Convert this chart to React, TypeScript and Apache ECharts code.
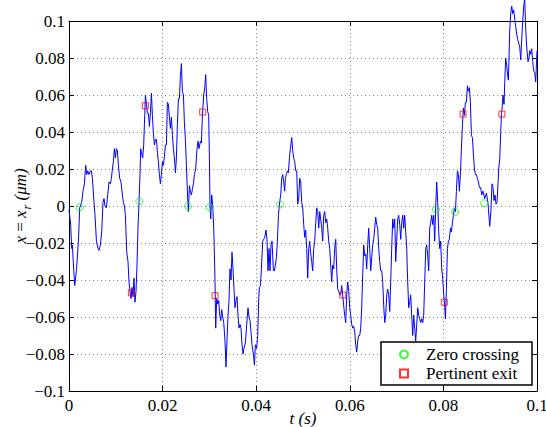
import React, { useEffect, useRef } from "react";
import * as echarts from "echarts";

// time (s) of the traced signal
const tValues = [
  0, 0.00036, 0.00058, 0.00073, 0.00086, 0.00122, 0.00158, 0.00201, 0.00229, 0.00271,
  0.00299, 0.00329, 0.00357, 0.00378, 0.004, 0.00427, 0.00457, 0.00479, 0.005, 0.00534,
  0.00556, 0.00586, 0.0062, 0.00641, 0.00671, 0.00699, 0.00727, 0.00748, 0.00769, 0.00799,
  0.00827, 0.00855, 0.00885, 0.00906, 0.00927, 0.00949, 0.0097, 0.00992, 0.01013, 0.01034,
  0.01056, 0.01083, 0.01111, 0.01141, 0.01162, 0.01184, 0.01205, 0.01233, 0.01261, 0.01282,
  0.01303, 0.01325, 0.01346, 0.01368, 0.01389, 0.0141, 0.01432, 0.01453, 0.01474, 0.01496,
  0.01517, 0.01532, 0.01554, 0.01575, 0.01596, 0.01618, 0.01633, 0.01654, 0.01675, 0.01697,
  0.01718, 0.01739, 0.01761, 0.01782, 0.01804, 0.01825, 0.01846, 0.01868, 0.01889, 0.0191,
  0.01932, 0.01953, 0.01974, 0.01996, 0.02017, 0.02039, 0.0206, 0.02081, 0.02103, 0.02124,
  0.02145, 0.02167, 0.02188, 0.0221, 0.02231, 0.02252, 0.02274, 0.02295, 0.02316, 0.02338,
  0.02359, 0.0238, 0.02402, 0.02423, 0.02445, 0.02466, 0.02487, 0.02509, 0.02536, 0.02551,
  0.02573, 0.02594, 0.02615, 0.02637, 0.02658, 0.0268, 0.02707, 0.02735, 0.02757, 0.02778,
  0.02808, 0.02829, 0.02851, 0.02878, 0.029, 0.02921, 0.02942, 0.02964, 0.02985, 0.03,
  0.03013, 0.03028, 0.03049, 0.03071, 0.03092, 0.03107, 0.0312, 0.03135, 0.03156, 0.03177,
  0.03199, 0.0322, 0.03242, 0.03263, 0.03284, 0.03306, 0.03333, 0.03355, 0.03376, 0.03398,
  0.03419, 0.0344, 0.03462, 0.03483, 0.03504, 0.03526, 0.03547, 0.03569, 0.0359, 0.03611,
  0.03633, 0.03654, 0.03675, 0.03697, 0.03718, 0.03739, 0.03769, 0.03797, 0.03825, 0.03846,
  0.03868, 0.03889, 0.0391, 0.0394, 0.03962, 0.03983, 0.04011, 0.04032, 0.04054, 0.04069,
  0.0409, 0.04111, 0.04139, 0.0416, 0.04182, 0.0421, 0.04231, 0.04252, 0.04274, 0.04295,
  0.04316, 0.04338, 0.04368, 0.04389, 0.0441, 0.04432, 0.04453, 0.04475, 0.04496, 0.04524,
  0.04545, 0.04566, 0.04588, 0.04609, 0.04624, 0.04645, 0.04667, 0.04688, 0.0471, 0.04731,
  0.04759, 0.0478, 0.04801, 0.04823, 0.04844, 0.04866, 0.04887, 0.04908, 0.0493, 0.04951,
  0.04972, 0.04994, 0.05015, 0.05037, 0.05058, 0.05079, 0.05101, 0.05122, 0.05143, 0.05165,
  0.05186, 0.05207, 0.05229, 0.0525, 0.05272, 0.05293, 0.05314, 0.05336, 0.05357, 0.05378,
  0.054, 0.05421, 0.05442, 0.05464, 0.05485, 0.05507, 0.05528, 0.05549, 0.05571, 0.05592,
  0.05613, 0.05635, 0.05656, 0.05677, 0.05699, 0.0572, 0.05742, 0.05763, 0.05784, 0.05806,
  0.05827, 0.05848, 0.0587, 0.05891, 0.05913, 0.05934, 0.05955, 0.05977, 0.05998, 0.06019,
  0.06041, 0.06062, 0.06084, 0.06105, 0.06126, 0.06148, 0.06169, 0.0619, 0.06212, 0.06233,
  0.06254, 0.06276, 0.06297, 0.06319, 0.0634, 0.06361, 0.06383, 0.06404, 0.06425, 0.06447,
  0.06468, 0.06489, 0.06511, 0.06532, 0.06554, 0.06575, 0.06596, 0.06618, 0.06639, 0.0666,
  0.06682, 0.06703, 0.06725, 0.06746, 0.06767, 0.06789, 0.0681, 0.06831, 0.06853, 0.06874,
  0.06895, 0.06917, 0.06938, 0.0696, 0.06981, 0.07002, 0.07024, 0.07045, 0.07066, 0.07088,
  0.07109, 0.07131, 0.07152, 0.07173, 0.07195, 0.07216, 0.07237, 0.07259, 0.0728, 0.07301,
  0.07323, 0.07344, 0.07366, 0.07387, 0.07408, 0.0743, 0.07451, 0.07472, 0.07494, 0.07515,
  0.07537, 0.07558, 0.07579, 0.07601, 0.07622, 0.07643, 0.07665, 0.07686, 0.07707, 0.07729,
  0.0775, 0.07772, 0.07793, 0.07814, 0.07836, 0.07857, 0.07878, 0.079, 0.07921, 0.07942,
  0.07964, 0.07985, 0.08007, 0.08028, 0.08043, 0.08064, 0.08086, 0.08107, 0.08128, 0.0815,
  0.08171, 0.08193, 0.08214, 0.08235, 0.08257, 0.08278, 0.08299, 0.08321, 0.08342, 0.08363,
  0.08385, 0.08406, 0.08428, 0.08449, 0.0847, 0.08492, 0.08513, 0.08534, 0.08556, 0.08577,
  0.08599, 0.0862, 0.08641, 0.08663, 0.08684, 0.08705, 0.08727, 0.08748, 0.08769, 0.08797,
  0.08819, 0.08846, 0.08883, 0.08919, 0.08953, 0.0899, 0.09017, 0.09039, 0.0906, 0.09081,
  0.09103, 0.09124, 0.09146, 0.09167, 0.09182, 0.09203, 0.09225, 0.0924, 0.09252, 0.09274,
  0.09295, 0.0931, 0.09331, 0.09353, 0.09374, 0.09389, 0.09402, 0.09417, 0.09438, 0.0946,
  0.09481, 0.09502, 0.09524, 0.09545, 0.09566, 0.09588, 0.09609, 0.09631, 0.09652, 0.09673,
  0.09695, 0.09716, 0.09737, 0.0976, 0.0978, 0.09808, 0.09829, 0.09844, 0.09866, 0.09887,
  0.09908, 0.0993, 0.09951, 0.09972, 0.1,
];

// position x - x_r (µm) of the traced signal
const xValues = [
  -0.002, -0.01, -0.023, -0.021, -0.028, -0.043, -0.035, -0.019, -0.001, 0.002,
  0.008, 0.012, 0.022, 0.017, 0.019, 0.017, 0.019, 0.019, 0.015, 0.002,
  -0.005, -0.019, -0.023, -0.024, -0.021, -0.014, 0.002, 0.004, 0.0, -0.001,
  0.006, 0.013, 0.012, 0.015, 0.02, 0.024, 0.031, 0.026, 0.031, 0.03,
  0.022, 0.015, 0.013, 0.006, 0.002, 0.0, -0.005, -0.025, -0.03, -0.041,
  -0.046, -0.05, -0.044, -0.049, -0.039, -0.052, -0.046, -0.032, -0.012, 0.002,
  0.017, 0.031, 0.028, 0.026, 0.033, 0.049, 0.06, 0.055, 0.05, 0.05,
  0.043, 0.05, 0.061, 0.049, 0.039, 0.033, 0.036, 0.036, 0.029, 0.024,
  0.017, 0.012, 0.017, 0.024, 0.022, 0.027, 0.033, 0.033, 0.056, 0.055,
  0.048, 0.042, 0.048, 0.038, 0.031, 0.026, 0.018, 0.026, 0.044, 0.058,
  0.058, 0.07, 0.077, 0.062, 0.06, 0.045, 0.036, 0.022, 0.004, -0.003,
  0.011, 0.008, 0.006, 0.009, 0.012, 0.017, 0.02, 0.031, 0.035, 0.031,
  0.035, 0.034, 0.049, 0.06, 0.064, 0.071, 0.058, 0.051, 0.049, 0.026,
  0.0, -0.007, 0.006, 0.0, -0.012, -0.026, -0.041, -0.066, -0.05, -0.053,
  -0.051, -0.059, -0.062, -0.056, -0.06, -0.063, -0.073, -0.087, -0.073, -0.059,
  -0.051, -0.034, -0.04, -0.025, -0.034, -0.045, -0.055, -0.051, -0.049, -0.059,
  -0.066, -0.064, -0.066, -0.075, -0.08, -0.077, -0.074, -0.064, -0.055, -0.06,
  -0.062, -0.068, -0.075, -0.08, -0.086, -0.075, -0.077, -0.07, -0.05, -0.044,
  -0.043, -0.034, -0.019, -0.018, -0.017, -0.013, -0.018, -0.035, -0.023, -0.035,
  -0.021, -0.019, -0.035, -0.035, -0.032, -0.028, -0.019, -0.005, 0.001, 0.006,
  0.015, 0.017, 0.013, 0.008, 0.015, 0.017, 0.019, 0.018, 0.026, 0.031,
  0.037, 0.03, 0.026, 0.024, 0.019, 0.019, 0.001, 0.004, 0.015, 0.013,
  0.002, -0.001, -0.01, -0.017, -0.013, -0.023, -0.039, -0.023, -0.019, -0.026,
  -0.03, -0.035, -0.023, -0.019, -0.009, -0.001, -0.003, -0.012, -0.003, -0.007,
  -0.012, -0.019, -0.005, -0.003, -0.009, -0.007, -0.012, -0.019, -0.023, -0.032,
  -0.041, -0.032, -0.034, -0.023, -0.018, -0.034, -0.045, -0.046, -0.048, -0.048,
  -0.043, -0.048, -0.054, -0.059, -0.063, -0.048, -0.041, -0.046, -0.055, -0.059,
  -0.064, -0.066, -0.065, -0.068, -0.075, -0.079, -0.073, -0.07, -0.07, -0.066,
  -0.055, -0.037, -0.021, -0.027, -0.026, -0.034, -0.021, -0.012, -0.023, -0.035,
  -0.028, -0.021, -0.018, -0.012, -0.006, -0.01, -0.012, -0.023, -0.03, -0.035,
  -0.035, -0.041, -0.054, -0.063, -0.059, -0.048, -0.045, -0.048, -0.057, -0.041,
  -0.023, -0.007, -0.012, -0.007, -0.03, -0.019, -0.007, -0.005, -0.01, -0.018,
  -0.009, -0.005, -0.012, -0.005, -0.014, -0.023, -0.041, -0.055, -0.052, -0.048,
  -0.059, -0.07, -0.059, -0.066, -0.073, -0.064, -0.055, -0.059, -0.061, -0.063,
  -0.061, -0.063, -0.059, -0.041, -0.023, -0.021, -0.027, -0.035, -0.012, -0.009,
  -0.005, -0.01, -0.005, -0.019, 0.0, 0.013, 0.002, -0.014, -0.023, -0.019,
  -0.034, -0.039, -0.048, -0.054, -0.061, -0.045, -0.023, -0.019, -0.018, -0.012,
  -0.014, -0.009, -0.005, -0.001, -0.003, 0.008, 0.019, 0.017, 0.008, 0.017,
  0.031, 0.044, 0.053, 0.049, 0.056, 0.056, 0.065, 0.062, 0.064, 0.056,
  0.038, 0.037, 0.028, 0.02, 0.017, 0.017, 0.015, 0.013, 0.01, 0.01,
  0.006, 0.008, 0.004, 0.007, 0.0015, -0.011, -0.002, 0.012, 0.01, 0.003,
  0.006, 0.001, 0.002, 0.012, 0.02, 0.025, 0.04, 0.05, 0.052, 0.06,
  0.055, 0.066, 0.08, 0.076, 0.07, 0.068, 0.08, 0.095, 0.104, 0.108,
  0.104, 0.106, 0.101, 0.097, 0.093, 0.09, 0.088, 0.086, 0.079, 0.09,
  0.1, 0.108, 0.112, 0.095, 0.086, 0.078, 0.08, 0.084, 0.082, 0.085,
  0.078, 0.073, 0.072, 0.067, 0.084,
];

const zeroT = [0.00229, 0.01504, 0.02543, 0.03006, 0.0451, 0.0784, 0.0825, 0.0887];
const zeroX = [-0.0007, 0.0025, -0.0002, -0.0007, 0.0008, -0.0018, -0.0033, 0.0015];

const exitT = [0.01333, 0.01632, 0.02857, 0.0312, 0.0585, 0.0802, 0.0842, 0.0925];
const exitX = [-0.0469, 0.0542, 0.0508, -0.0485, -0.0481, -0.052, 0.0497, 0.0497];

const legendNames = ["Zero crossing", "Pertinent exit"];

const FONT = "Liberation Serif";

function fmt(v: number): string {
  if (Math.abs(v) < 1e-9) return "0";
  const s = String(+Math.abs(v).toFixed(3));
  return (v < 0 ? "\u2212" : "") + s;
}

export default function App() {
  const ref = useRef<HTMLDivElement>(null);
  useEffect(() => {
    if (!ref.current) return;
    const chart = echarts.init(ref.current, undefined, { renderer: "svg" });
    const lineData = tValues.map((t, i) => [t, xValues[i]]);
    const zeroData = zeroT.map((t, i) => [t, zeroX[i]]);
    const exitData = exitT.map((t, i) => [t, exitX[i]]);
    const axisLineStyle = { color: "#000", width: 1 };
    const gridLine = { show: true, lineStyle: { color: "#8a8a8a", width: 1, type: [1, 3] as any } };
    const labelStyle = {
      formatter: fmt,
      fontFamily: FONT,
      fontSize: 17,
      color: "#000",
      showMinLabel: true,
      showMaxLabel: true,
    };
    const option: any = {
      animation: false,
      backgroundColor: "#fff",
      textStyle: { fontFamily: FONT },
      grid: { left: 69, right: 9, top: 21, bottom: 36, containLabel: false, outerBoundsMode: "none" },
      xAxis: [
        {
          type: "value",
          min: 0,
          max: 0.1,
          interval: 0.02,
          position: "bottom",
          axisLine: { show: true, onZero: false, lineStyle: axisLineStyle },
          axisTick: { show: true, inside: true, length: 5, lineStyle: axisLineStyle },
          axisLabel: { ...labelStyle, margin: 6 },
          splitLine: gridLine,
          name: "t (s)",
          nameLocation: "middle",
          nameGap: 19,
          nameMoveOverlap: false,
          nameTextStyle: { fontFamily: FONT, fontStyle: "italic", fontSize: 17, color: "#000", verticalAlign: "top" },
        },
        {
          type: "value",
          min: 0,
          max: 0.1,
          interval: 0.02,
          position: "top",
          axisLine: { show: true, onZero: false, lineStyle: axisLineStyle },
          axisTick: { show: true, inside: true, length: 5, lineStyle: axisLineStyle },
          axisLabel: { show: false },
          splitLine: { show: false },
        },
      ],
      yAxis: [
        {
          type: "value",
          min: -0.1,
          max: 0.1,
          interval: 0.02,
          position: "left",
          axisLine: { show: true, onZero: false, lineStyle: axisLineStyle },
          axisTick: { show: true, inside: true, length: 5, lineStyle: axisLineStyle },
          axisLabel: { ...labelStyle, margin: 4 },
          splitLine: gridLine,
          name: "{i|x}{n| = }{i|x}{s|r}{i| (\u03bcm)}",
          nameLocation: "middle",
          nameRotate: 90,
          nameGap: 40,
          nameMoveOverlap: false,
          nameTextStyle: {
            fontFamily: FONT,
            fontSize: 17,
            color: "#000",
            rich: {
              i: { fontFamily: FONT, fontStyle: "italic", fontSize: 17, lineHeight: 17, color: "#000", verticalAlign: "top" },
              n: { fontFamily: FONT, fontSize: 17, lineHeight: 17, color: "#000", verticalAlign: "top" },
              s: { fontFamily: FONT, fontStyle: "italic", fontSize: 12, lineHeight: 12, color: "#000", padding: [9, 0, 0, 1], verticalAlign: "top" },
            },
          },
        },
        {
          type: "value",
          min: -0.1,
          max: 0.1,
          interval: 0.02,
          position: "right",
          axisLine: { show: true, onZero: false, lineStyle: axisLineStyle },
          axisTick: { show: true, inside: true, length: 5, lineStyle: axisLineStyle },
          axisLabel: { show: false },
          splitLine: { show: false },
        },
      ],
      legend: {
        data: [
          { name: legendNames[0], icon: "circle" },
          { name: legendNames[1], icon: "rect" },
        ],
        orient: "vertical",
        left: 381,
        top: 342,
        padding: [4, 5, 4, 18],
        itemWidth: 8,
        itemHeight: 8,
        itemGap: 2,
        textStyle: { fontFamily: FONT, fontSize: 17, color: "#000", lineHeight: 17, padding: [0, 0, 0, 13] },
        z: 20,
      },
      graphic: [
        {
          type: "rect",
          z: 15,
          shape: { x: 381, y: 342, width: 151, height: 43 },
          style: { fill: "#fff", stroke: "#000", lineWidth: 1.5 },
        },
      ],
      series: [
        {
          type: "line",
          data: lineData,
          showSymbol: false,
          symbol: "none",
          clip: false,
          lineStyle: { color: "#0000ff", width: 1 },
          z: 2,
          silent: true,
        },
        {
          type: "scatter",
          name: legendNames[0],
          data: zeroData,
          symbol: "circle",
          symbolSize: 7,
          itemStyle: { color: "rgba(0,0,0,0)", borderColor: "#00ff00", borderWidth: 1 },
          z: 3,
        },
        {
          type: "scatter",
          name: legendNames[1],
          data: exitData,
          symbol: "rect",
          symbolSize: 6,
          itemStyle: { color: "rgba(0,0,0,0)", borderColor: "#ff0000", borderWidth: 1 },
          z: 3,
        },
      ],
    };
    chart.setOption(option);
    return () => chart.dispose();
  }, []);
  return <div ref={ref} style={{ width: 546, height: 427, position: "absolute", left: 0, top: 0 }} />;
}
